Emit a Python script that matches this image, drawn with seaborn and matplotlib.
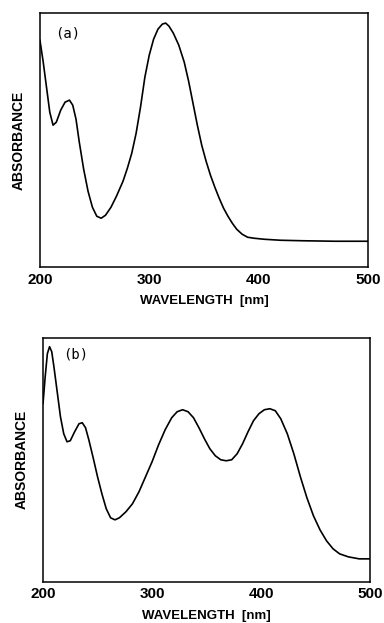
import pandas as pd
import matplotlib
matplotlib.use('Agg')
import matplotlib.pyplot as plt
import seaborn as sns

# spectrum (a) - wavelength (nm) and relative absorbance
wl_a = [200, 203, 206, 209, 212, 215, 219, 223, 227, 230, 233, 236, 240, 244, 248,
        252, 256, 260, 265, 270, 276, 280, 284, 288, 292, 296, 300, 304, 308, 312,
        315, 318, 322, 327, 332, 336, 340, 344, 348, 352, 356, 360, 364, 368, 372,
        376, 380, 385, 390, 396, 405, 420, 440, 470, 500]
abs_a = [227, 205, 180, 155, 142, 145, 157, 165, 167, 162, 148, 125, 98, 76, 60,
         51, 49, 52, 60, 71, 86, 99, 114, 134, 160, 190, 212, 228, 238, 243,
         244, 241, 234, 222, 205, 186, 164, 142, 122, 106, 92, 80, 69, 59, 51,
         44, 38, 33, 30, 29, 28, 27, 26.5, 26, 26]

# spectrum (b)
wl_b = [200, 202, 204, 206, 208, 210, 213, 216, 219, 222, 225, 229, 233, 236, 239,
        242, 246, 250, 254, 258, 262, 266, 270, 276, 282, 288, 294, 300, 306, 312,
        318, 323, 328, 333, 338, 343, 348, 353, 358, 363, 368, 373, 378, 383, 388,
        393, 398, 403, 408, 413, 418, 424, 430, 436, 442, 448, 454, 460, 466, 472,
        480, 490, 500]
abs_b = [178, 205, 228, 235, 230, 215, 190, 165, 148, 140, 141, 150, 158, 159, 154,
         142, 124, 105, 88, 73, 64, 62, 64, 70, 78, 90, 105, 120, 137, 152,
         164, 170, 172, 170, 164, 154, 143, 133, 126, 122, 121, 122, 128, 138, 150,
         161, 168, 172, 173, 171, 163, 148, 128, 105, 84, 66, 52, 41, 33, 28,
         25, 23, 23]

panels = [
    ('(a)', wl_a, abs_a, 254, [0.104, 0.571, 0.854, 0.408], (0.046, 0.92)),
    ('(b)', wl_b, abs_b, 244, [0.112, 0.066, 0.852, 0.392], (0.06, 0.93)),
]

sns.set_style('white')
plt.rcParams['font.family'] = ['Liberation Sans', 'DejaVu Sans']
plt.rcParams['text.color'] = 'black'
plt.rcParams['axes.labelcolor'] = 'black'
plt.rcParams['xtick.color'] = 'black'

fig = plt.figure(figsize=(3.84, 6.23), dpi=100)

for tag, wl, ab, ymax, rect, tpos in panels:
    ax = fig.add_axes(rect)
    df = pd.DataFrame({'wl': wl, 'abs': ab})
    sns.lineplot(data=df, x='wl', y='abs', ax=ax, color='black', linewidth=1.2)
    ax.set_xlim(200, 500)
    ax.set_ylim(0, ymax)
    ax.set_xticks([200, 300, 400, 500])
    ax.set_yticks([])
    ax.tick_params(axis='x', direction='in', length=3, width=1, pad=4,
                   labelsize=11)
    for lbl in ax.get_xticklabels():
        lbl.set_fontweight('bold')
    for s in ax.spines.values():
        s.set_color('black')
        s.set_linewidth(1.1)
    ax.set_xlabel('WAVELENGTH  [nm]', fontsize=9.5, fontweight='bold', labelpad=6)
    ax.set_ylabel('ABSORBANCE', fontsize=10, fontweight='bold', labelpad=10)
    ax.text(tpos[0], tpos[1], tag, transform=ax.transAxes, fontsize=10,
            family='DejaVu Sans Mono', va='center')

fig.savefig('out.png', dpi=100)
